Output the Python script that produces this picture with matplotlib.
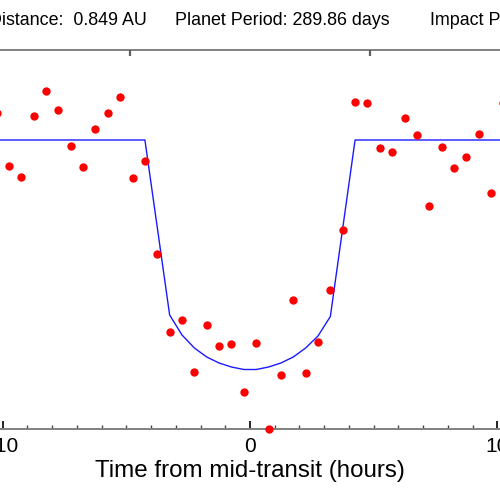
import numpy as np
import matplotlib.pyplot as plt

plt.rcParams['font.family'] = ['Liberation Sans', 'DejaVu Sans']

# observed points, time from mid-transit (hours) and relative flux
obs_time = [-10.25, -9.75, -9.25, -8.75, -8.25, -7.75, -7.25, -6.75, -6.25, -5.75,
            -5.25, -4.75, -4.25, -3.75, -3.25, -2.75, -2.25, -1.75, -1.25, -0.75,
            -0.25, 0.25, 0.75, 1.25, 1.75, 2.25, 2.75, 3.25, 3.75, 4.25,
            4.75, 5.25, 5.75, 6.25, 6.75, 7.25, 7.75, 8.25, 8.75, 9.25,
            9.75, 10.25]
obs_flux = [1.00027, 0.99974, 0.99963, 1.00024, 1.00049, 1.00030, 0.99994, 0.99973, 1.00011, 1.00027,
            1.00043, 0.99962, 0.99979, 0.99886, 0.99808, 0.99820, 0.99768, 0.99815, 0.99794, 0.99796,
            0.99748, 0.99797, 0.99711, 0.99765, 0.99840, 0.99767, 0.99798, 0.99850, 0.99910, 1.00038,
            1.00037, 0.99992, 0.99988, 1.00022, 1.00005, 0.99934, 0.99993, 0.99972, 0.99983, 1.00006,
            0.99947, 1.00037]

# model light curve
model_time = [-12, -4.25, -3.25, -2.75, -2.25, -1.75, -1.25, -0.75, -0.25, 0.25,
              0.75, 1.25, 1.75, 2.25, 2.75, 3.25, 4.25, 12]
model_flux = [1.0, 1.0, 0.99825, 0.99805, 0.99792, 0.99783, 0.99777, 0.99773, 0.997705, 0.997705,
              0.99773, 0.99777, 0.99783, 0.99792, 0.99804, 0.998235, 1.0, 1.0]

major_ticks = [-10, 0, 10]
minor_ticks = np.arange(-12, 13, 1)
top_ticks = [-4.85, 4.85]

fig = plt.figure(figsize=(5, 5), dpi=100)
ax = fig.add_axes([-0.0934, 0.142, 1.1868, 0.758])
ax.set_xlim(-12, 12)
ax.set_ylim(0.99711, 1.0009)

ax.plot(model_time, model_flux, color='#1a1aff', lw=1.0, zorder=2)
ax.plot(obs_time, obs_flux, 'o', color='#ff0000', ms=6, mec='none', zorder=3, clip_on=False)

for s in ['left', 'right']:
    ax.spines[s].set_visible(False)
for s in ['top', 'bottom']:
    ax.spines[s].set_color('#808080')
    ax.spines[s].set_linewidth(1.4)

ax.set_yticks([])
ax.set_xticks(major_ticks)
ax.set_xticklabels(['-10', '0', '10'])
ax.set_xticks(minor_ticks, minor=True)
ax.tick_params(axis='x', which='major', direction='in', length=5.5, width=1.2,
               color='black', labelsize=15, pad=6)
ax.tick_params(axis='x', which='minor', direction='in', length=3, width=1.0, color='#444444')
ax.set_xlabel('Time from mid-transit (hours)', fontsize=17.4, labelpad=3)

top = ax.twiny()
top.set_xlim(ax.get_xlim())
top.set_xticks(top_ticks)
top.set_xticklabels([])
top.tick_params(axis='x', direction='in', length=4.5, width=1.6, color='#606060')
for s in top.spines.values():
    s.set_visible(False)

fig.text(0.294, 0.95, 'Distance:  0.849 AU', ha='right', va='baseline', fontsize=12.9)
fig.text(0.35, 0.95, 'Planet Period: 289.86 days', ha='left', va='baseline', fontsize=12.9)
fig.text(0.86, 0.95, 'Impact Parameter:', ha='left', va='baseline', fontsize=12.9)

fig.savefig('out.png', dpi=100)
